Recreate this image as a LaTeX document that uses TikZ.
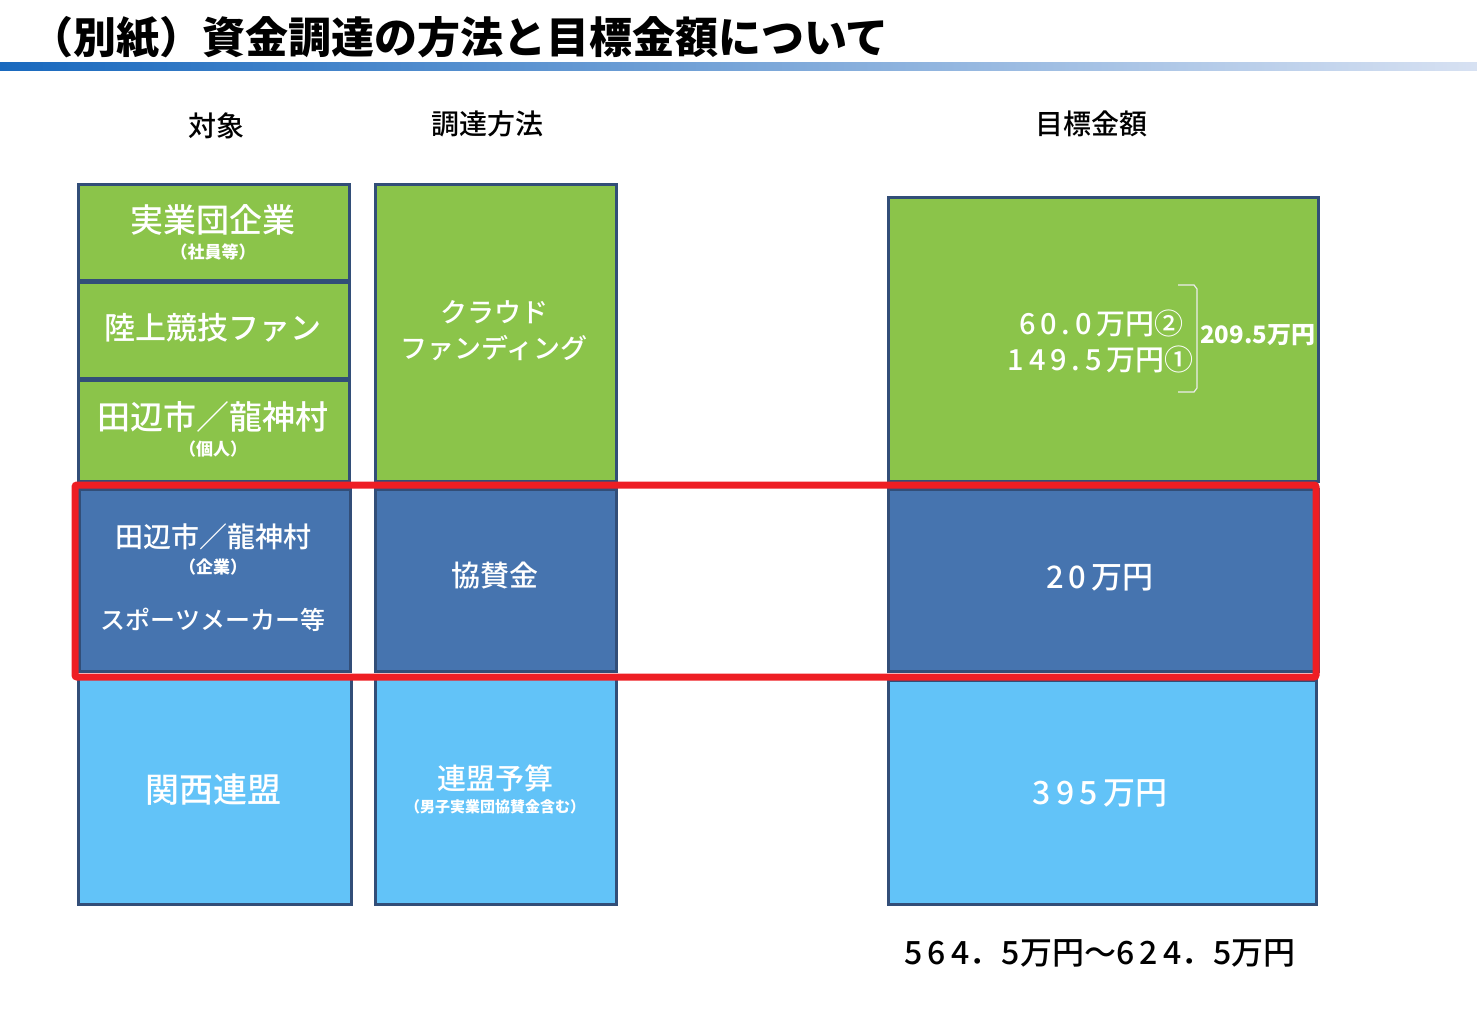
\documentclass[tikz,border=0pt]{standalone}
\usepackage{fontspec}
\setmainfont{Noto Sans CJK JP}
\newfontfamily\jp{Noto Sans CJK JP}
\newfontfamily\jpm{Noto Sans CJK JP Medium}
\newfontfamily\jpk{Noto Sans CJK JP Black}
\definecolor{gcol}{RGB}{139,196,74}
\definecolor{dcol}{RGB}{70,116,175}
\definecolor{lcol}{RGB}{98,195,248}
\definecolor{bcol}{RGB}{50,78,120}
\definecolor{rcol}{RGB}{238,30,36}
\definecolor{barL}{RGB}{25,105,190}
\definecolor{barR}{RGB}{215,225,242}
\begin{document}
\begin{tikzpicture}[x=1pt,y=-1pt,
  cell/.style={draw=bcol,line width=3pt,inner sep=0pt,anchor=north west},
  wt/.style={text=white,font=\jpm,inner sep=0pt,align=center},
  hd/.style={text=black,font=\jpm\fontsize{28}{32}\selectfont,inner sep=0pt}]
\useasboundingbox (0,0) rectangle (1477,1020);
% title
\node[anchor=west,inner sep=0pt,font=\jpk\fontsize{43}{46}\selectfont] (title) at (30,38) {（別紙）資金調達の方法と目標金額について};
\shade[left color=barL,right color=barR] (0,62) rectangle (1477,70);
% headers
\node[hd] (h1) at (216,126) {対象};
\node[hd] (h2) at (487,124) {調達方法};
\node[hd] (h3) at (1091,124) {目標金額};
% column 1
\node[cell,fill=gcol,minimum width=271pt,minimum height=96pt] (a1) at (77,183) {};
\node[cell,fill=gcol,minimum width=271pt,minimum height=96pt] (a2) at (77,281) {};
\node[cell,fill=gcol,minimum width=271pt,minimum height=101pt] (a3) at (77,379) {};
\node[cell,fill=dcol,minimum width=271pt,minimum height=182pt] (a4) at (78,488) {};
\node[cell,fill=lcol,minimum width=273pt,minimum height=226pt] (a5) at (77,677) {};
% column 2
\node[cell,fill=gcol,minimum width=241pt,minimum height=297pt] (b1) at (374,183) {};
\node[cell,fill=dcol,minimum width=241pt,minimum height=182pt] (b2) at (374,488) {};
\node[cell,fill=lcol,minimum width=241pt,minimum height=226pt] (b3) at (374,677) {};
% column 3
\node[cell,fill=gcol,minimum width=430pt,minimum height=284pt] (c1) at (887,196) {};
\node[cell,fill=dcol,minimum width=430pt,minimum height=182pt] (c2) at (887,488) {};
\node[cell,fill=lcol,minimum width=428pt,minimum height=224pt] (c3) at (887,679) {};
% red frame
\draw[rcol,line width=7pt,rounded corners=2pt] (75,485) rectangle (1316,677);
% texts col 1
\node[wt,font=\jpm\fontsize{33}{36}\selectfont] (t1) at (213,220) {実業団企業};
\node[wt,font=\jp\bfseries\fontsize{17}{20}\selectfont] (t1s) at (213,252) {（社員等）};
\node[wt,font=\jpm\fontsize{31}{34}\selectfont] (t2) at (213,328) {陸上競技ファン};
\node[wt,font=\jpm\fontsize{33}{36}\selectfont] (t3) at (213,417) {田辺市／龍神村};
\node[wt,font=\jp\bfseries\fontsize{17}{20}\selectfont] (t3s) at (213,449) {（個人）};
\node[wt,font=\jpm\fontsize{28}{30}\selectfont] (t4) at (213,537) {田辺市／龍神村};
\node[wt,font=\jp\bfseries\fontsize{17}{20}\selectfont] (t4s) at (213,567) {（企業）};
\node[wt,font=\jpm\fontsize{25}{28}\selectfont] (t4b) at (213,620) {スポーツメーカー等};
\node[wt,font=\jpm\fontsize{34}{36}\selectfont] (t5) at (213,790) {関西連盟};
% texts col 2
\node[wt,font=\jpm\fontsize{27}{36}\selectfont] (u1) at (494,331) {クラウド\\ファンディング};
\node[wt,font=\jpm\fontsize{29}{32}\selectfont] (u2) at (495,576) {協賛金};
\node[wt,font=\jpm\fontsize{29}{32}\selectfont] (u3) at (495,778) {連盟予算};
\node[wt,font=\jp\bfseries\fontsize{15}{18}\selectfont] (u3s) at (495,807) {（男子実業団協賛金含む）};
% texts col 3
\node[wt,anchor=east,font=\jpm\fontsize{29}{32}\selectfont] (v1) at (1184,323) {6\,0\,.\,0\,万円②};
\node[wt,anchor=east,font=\jpm\fontsize{29}{32}\selectfont] (v2) at (1194,359) {1\,4\,9\,.\,5\,万円①};
\coordinate (k1) at (1178,285);
\coordinate (k2) at (1197,289);
\coordinate (k3) at (1197,388);
\coordinate (k4) at (1178,392);
\draw[white!85!gray,line width=1.2pt] (k1) -- (1194,285) -- (k2) -- (k3) -- (1194,392) -- (k4);
\node[wt,anchor=west,font=\jp\bfseries\fontsize{24}{28}\selectfont] (v3) at (1200,335) {209.5万円};
\node[wt,font=\jpm\fontsize{31}{34}\selectfont] (v4) at (1100,578) {2\,0\,万円};
\node[wt,font=\jpm\fontsize{32}{36}\selectfont] (v5) at (1100,793) {3\,9\,5\,万円};
\node[inner sep=0pt,font=\jpm\fontsize{32}{36}\selectfont] (tot) at (1100,953) {5\,6\,4．5万円～6\,2\,4．5万円};
\end{tikzpicture}
\end{document}
